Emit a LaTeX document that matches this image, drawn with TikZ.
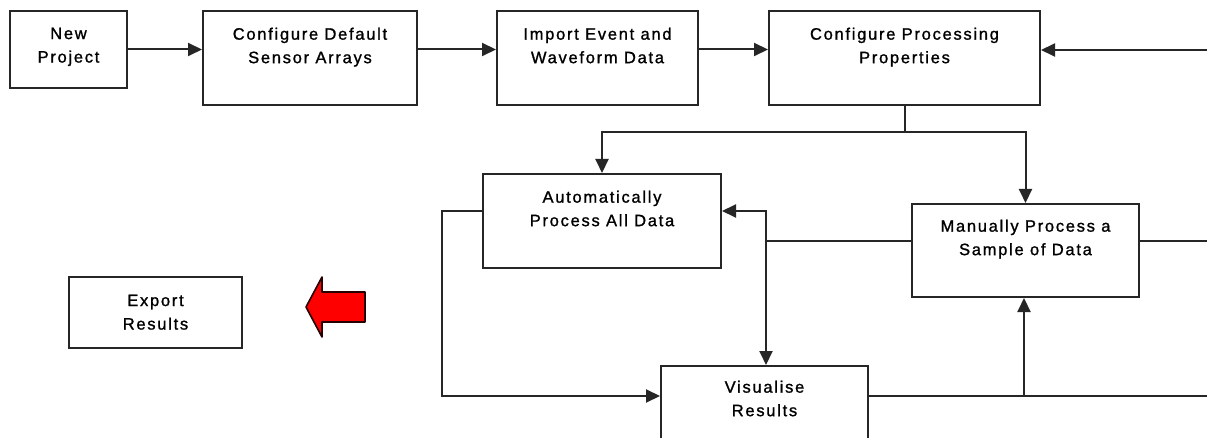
\documentclass[tikz,border=0pt]{standalone}
\usepackage{fontspec}
\setmainfont{Liberation Sans}[LetterSpace=10.5,FakeBold=1.2]
\usetikzlibrary{arrows.meta,calc}
\tikzset{
  box/.style={draw=black!85,line width=2pt,inner sep=0pt},
  lbl/.style={anchor=north,align=center,inner sep=0pt,font=\fontsize{16.5}{23.5}\selectfont},
  con/.style={draw=black!85,line width=2pt},
  arr/.style={con,-{Triangle[length=14pt,width=13pt]}},
  arrboth/.style={con,{Triangle[length=14pt,width=13pt]}-{Triangle[length=14pt,width=13pt]}},
  bigarrow/.style={fill=red,draw=black!85!red,line width=1.6pt,line join=round}
}
\begin{document}
\begin{tikzpicture}[x=1pt,y=-1pt]
\useasboundingbox (0,0) rectangle (1207,438);
\fill[white] (0,0) rectangle (1207,438);
\clip (0,0) rectangle (1207,438);

% boxes
\node[box,minimum width=117pt,minimum height=77pt] (np) at (68.5,49.5) {};
\node[box,minimum width=214pt,minimum height=94pt] (cd) at (310,58) {};
\node[box,minimum width=201pt,minimum height=94pt] (ie) at (597.5,58) {};
\node[box,minimum width=271pt,minimum height=94pt] (cp) at (904.5,58) {};
\node[box,minimum width=238pt,minimum height=94pt] (ap) at (602,221) {};
\node[box,minimum width=227pt,minimum height=93pt] (mp) at (1025.5,250.5) {};
\node[box,minimum width=173pt,minimum height=71pt] (ex) at (155.5,312.5) {};
\node[box,minimum width=207pt,minimum height=94pt] (vr) at (764.5,413) {};

% labels
\node[lbl] (npt) at (68.5,27.5) {New\\Project};
\node[lbl] (cdt) at (310,27.5) {Configure Default\\Sensor Arrays};
\node[lbl] (iet) at (597.5,27.5) {Import Event and\\Waveform Data};
\node[lbl] (cpt) at (904.5,27.5) {Configure Processing\\Properties};
\node[lbl] (apt) at (602,190.5) {Automatically\\Process All Data};
\node[lbl] (mpt) at (1025.5,219.5) {Manually Process a\\Sample of Data};
\node[lbl] (ext) at (155.5,294.5) {Export\\Results};
\node[lbl] (vrt) at (764.5,380.5) {Visualise\\Results};

% helper coordinates
\coordinate (tr) at (1207,50);
\coordinate (br) at (905,132);
\coordinate (lc) at (442,211);
\coordinate (ld) at (442,396);
\coordinate (m1) at (766,211);
\coordinate (m2) at (766,241);
\coordinate (rr) at (1207,241);
\coordinate (vb) at (1024,396);
\coordinate (vre) at (1207,396);

% top row
\draw[arr] (np.east) -- (np.east -| cd.west);
\draw[arr] (cd.east |- np.east) -- (ie.west |- np.east);
\draw[arr] (ie.east |- np.east) -- (cp.west |- np.east);
\draw[arr] (tr) -- (tr -| cp.east);

% branch from configure processing
\draw[arr] (cp.south) |- (ap.north |- br) -- (ap.north);
\draw[arr] (cp.south) |- (mp.north |- br) -- (mp.north);

% auto -> visualise
\draw[arr] (ap.west |- lc) -- (lc) -- (ld) -- (vr.west |- ld);

% middle vertical with two heads
\draw[arrboth] (ap.east |- m1) -- (m1) -- (m1 |- vr.north);
\draw[con] (mp.west |- m2) -- (m2);
\draw[con] (mp.east |- rr) -- (rr);

% visualise -> right and manual
\draw[con] (vr.east |- vb) -- (vre);
\draw[arr] (vb) -- (vb |- mp.south);

% red arrow
\draw[bigarrow] (306,307) -- (322,277) -- (322,292) -- (365,292) -- (365,322) -- (322,322) -- (322,337) -- cycle;
\end{tikzpicture}
\end{document}
